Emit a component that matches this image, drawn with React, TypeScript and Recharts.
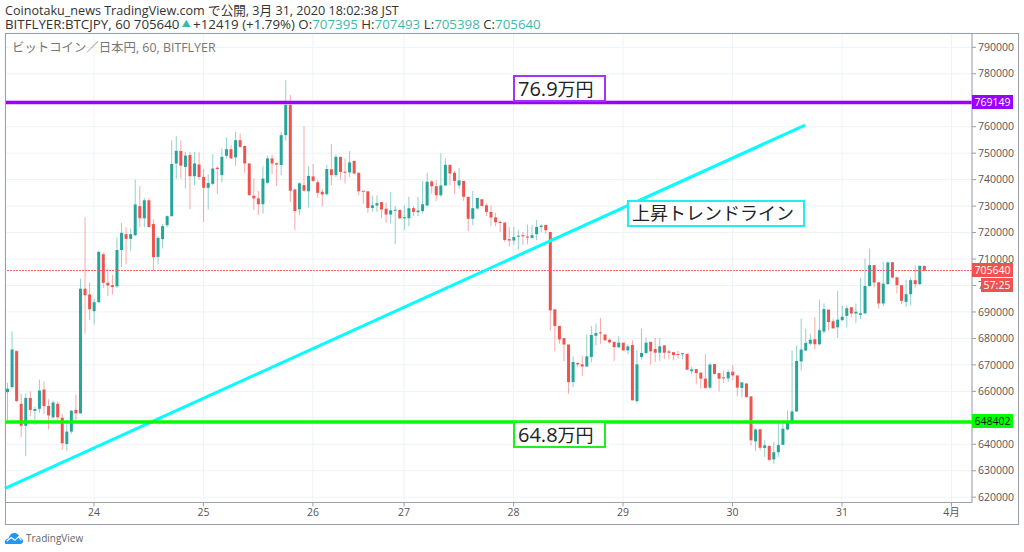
import React from "react";
import { ComposedChart, Bar, XAxis, YAxis, CartesianGrid, ReferenceLine } from "recharts";

const opens = [
659700,661600,675200,655300,647000,657500,652600,653400,660700,654500,
650200,655300,650000,640100,644800,653000,651700,698800,696600,690300,
693700,711800,701000,700100,699700,713400,719400,717600,719000,730000,
725400,732200,723200,710800,717500,722800,726200,746100,750800,744800,
749300,741300,745700,741000,736900,738400,744500,741700,749000,751500,
748400,754900,752700,746100,733900,732900,730700,738800,748000,746200,
745500,756800,768200,736300,728800,737900,735600,741200,739000,735400,
734500,743900,741700,748600,743000,742700,747100,742600,735800,735600,
729300,730200,731500,729000,726800,728300,728600,725400,725400,729200,
727700,728100,730200,739300,737500,734100,737800,745600,742600,737800,
739500,733500,725200,729100,732600,730300,727800,725700,724000,723800,
717500,717000,718500,719000,718500,718000,719400,722100,722900,720200,
691000,684700,680100,677700,663500,670700,670200,669400,673000,681000,
682300,681500,679500,678700,676700,678400,675500,677500,656300,673000,
674500,678700,676000,674600,677400,675100,674800,674100,674000,674200,
667600,668400,667100,664800,661400,670300,666900,665300,664900,667400,
666000,661300,663000,658100,641100,645700,638600,639400,634300,637000,
639800,645600,648000,652400,671300,675400,678000,679700,677800,682600,
690900,686500,684200,686900,688500,691800,689400,688900,689500,699800,
707700,701200,693200,700500,708800,703100,700100,693800,696700,702000,
700500,707395];

const closes = [
661000,675800,656300,647000,657500,653000,653300,660300,654400,650900,
655800,650200,640400,644800,652700,651700,698800,696300,691000,693700,
712700,701000,700000,699400,713400,719900,717600,719400,730600,725400,
732200,722100,710700,718000,722400,726200,745900,750900,745300,749100,
741300,746100,741000,736900,738700,744200,744000,748600,751500,748000,
754900,752400,746100,734100,732900,730700,740400,748000,746100,745700,
756800,768200,735800,728100,738600,735800,741400,739500,735000,734400,
744000,741700,748600,742900,742700,746500,742300,735600,735500,729300,
730300,731100,728700,726800,728400,728600,725400,725800,729200,727800,
728300,730700,739200,737500,734100,737800,745600,742300,739500,739700,
733500,725200,729200,733100,730000,727800,725700,723900,723600,717200,
717000,718300,718800,718600,718100,719000,722100,722600,720900,690600,
684700,679600,677700,663500,671100,670200,669400,673200,681300,682000,
681900,679300,678500,676700,678400,675500,677000,656600,670200,674500,
678400,675100,674600,677000,674600,674600,673700,673900,674400,668200,
668300,666900,664800,661300,670100,666600,664800,665000,667300,666000,
661400,663400,657900,641500,645600,638700,639600,634100,637000,639700,
645900,648400,652400,671500,675800,678300,679500,677800,683100,691100,
686200,683800,687100,688200,691400,689400,690100,689500,699800,707700,
701100,693200,700700,708700,703000,700100,694200,696700,702000,700500,
707400,705640];

const highs = [
663200,682600,675500,659000,659300,660000,654300,664400,663700,657000,
656500,656200,651500,649200,653000,658800,702600,725700,701000,695000,
713000,712500,706500,704000,718100,723600,722000,721500,740000,737500,
733000,733000,725000,718600,723200,726500,754900,756400,754900,750500,
750500,750500,750300,744000,742000,749600,745000,751800,756000,753000,
758000,757400,752900,746100,740400,735700,745000,749000,749400,746500,
758000,777600,772000,736500,739000,760000,745000,745900,740000,736500,
745500,753400,749600,744800,748000,750800,744800,742300,735600,733500,
733900,734000,731600,731300,735400,730000,726500,730300,733500,730000,
733500,739500,742600,739800,739800,749900,748000,743000,743300,744400,
733500,730300,735700,732900,732000,731000,730300,727400,724700,719000,
722100,722100,720900,720200,723000,722800,724700,723100,721500,691200,
684900,680900,678000,673600,673200,671000,673500,681500,684700,685600,
687700,680500,680000,678800,680800,678000,677700,679300,675500,683700,
680300,678700,680200,680200,676100,675800,674900,675300,674400,669800,
669400,667700,665400,674000,670800,667900,666700,667900,668200,670000,
665700,663100,660000,646900,646000,643300,641500,639600,640800,648800,
649000,652800,675500,677400,687500,683700,681800,687900,694700,693200,
688700,687500,698000,692400,692400,690900,693200,702900,710200,714000,
704500,701400,708900,709000,704500,700100,698500,702100,703000,707700,
707700,707493];

const lows = [
649000,661000,656000,642700,635500,650500,647300,651900,651500,645600,
649600,649000,637900,637600,643900,649000,651500,681800,687000,685300,
693500,699000,696000,696600,699000,707000,708000,713000,718600,722000,
722000,722000,705700,708000,714000,722000,726000,740400,740400,736700,
728800,737900,740000,724000,728700,737900,734500,739000,748000,748000,
745200,752000,742600,734000,728500,726600,727200,738500,742100,737600,
741700,754700,731600,720900,726600,735500,729500,739300,733300,730000,
734000,737900,741000,740000,738500,741000,742000,734100,731000,727400,
727800,727800,725500,723600,723400,715600,725000,720900,722400,726200,
726200,727200,730000,734700,732000,733500,737500,737900,734700,736600,
732000,720600,722800,728700,730000,726200,722400,722400,720200,716500,
714800,715200,713600,715300,715600,717700,717100,720200,719600,683000,
675200,678000,671400,659100,661600,669200,665800,669200,671000,677400,
678000,679000,678000,671400,676300,675200,674000,656600,655500,672000,
674200,670100,671100,671500,672100,672000,671700,672400,672100,668000,
666400,662600,661000,661000,661000,666300,660000,663200,663500,664200,
658100,657800,657500,639600,637400,637700,635200,633600,632600,635200,
639600,645200,647500,652200,667900,675100,677400,675900,677400,681800,
683000,683600,680200,686600,684100,687900,685800,687400,689000,699500,
699200,691300,692200,700300,702600,697000,692900,691900,692500,699200,
700100,705398];

const dayTicks = [19, 43, 67, 87, 111, 135, 159, 183, 207];
const dayLabels = ["24", "25", "26", "27", "28", "29", "30", "31", "4月"];
const priceTicks = [
620000,630000,640000,650000,660000,670000,680000,690000,700000,
710000,720000,730000,740000,750000,760000,770000,780000,790000,
];
const coveredPriceLabels: Record<number, string> = { 650000: "", 770000: "", 700000: "7" };
const resistance = 769149;
const support = 648402;
const lastPrice = 705640;
const trendStart = { i: -0.5, price: 623300 };
const trendEnd = { i: 174.9, price: 760600 };

const candles = opens.map((o, i) => ({
  i,
  open: o,
  close: closes[i],
  wick: [lows[i], highs[i]],
  body: [Math.min(o, closes[i]), Math.max(o, closes[i])],
}));

const UP = "#26a69a";
const DOWN = "#ef5350";
const FONT = '"Open Sans","Noto Sans CJK JP",sans-serif';

const Wick = (p: any) => (
  <rect x={p.x + p.width / 2 - 0.5} y={p.y} width={1} height={p.height}
    fill={p.payload.close >= p.payload.open ? UP : DOWN} fillOpacity={0.5} />
);
const Body = (p: any) => (
  <rect x={p.x} y={p.y} width={p.width} height={Math.max(p.height, 1)}
    fill={p.payload.close >= p.payload.open ? UP : DOWN} />
);

const abs = (left: number, top: number, extra: React.CSSProperties = {}): React.CSSProperties => ({
  position: "absolute", left, top, whiteSpace: "nowrap", fontFamily: FONT, ...extra,
});

const Badge = ({ top, left = 972, width = 41, bg, color = "#fff", children }: any) => (
  <div style={abs(left, top, {
    width, height: 14, lineHeight: "14px", background: bg, color, fontSize: 10.5, textAlign: "center",
  })}>{children}</div>
);

const Note = ({ left, top, width, height, color, pad = 3, children }: any) => (
  <div style={abs(left, top, {
    width, height, boxSizing: "border-box", border: `2px solid ${color}`, background: "#fff",
    color: "#222", fontSize: 18, lineHeight: `${height - 4}px`, paddingLeft: pad,
  })}>{children}</div>
);
const Digits = ({ children }: any) => <span style={{ fontSize: 20 }}>{children}</span>;

const teal = { color: "#3fb8a8" };

export default function App() {
  return (
    <div style={{ position: "absolute", left: 0, top: 0, width: 1024, height: 552, background: "#fff", overflow: "hidden" }}>
      <div style={abs(5, 4, { fontSize: 12.6, color: "#333", lineHeight: "14px" })}>
        Coinotaku_news TradingView.com で公開, 3月 31, 2020 18:02:38 JST
      </div>
      <div style={abs(5, 17, { fontSize: 13.3, color: "#333", lineHeight: "14px" })}>
        BITFLYER:BTCJPY, 60 705640<span style={{ ...teal, fontSize: 9, verticalAlign: 2 }}> ▲ </span>+12419 (+1.79%) O:<span style={teal}>707395</span> H:<span style={teal}>707493</span> L:<span style={teal}>705398</span> C:<span style={teal}>705640</span>
      </div>

      <ComposedChart
        width={1024}
        height={552}
        data={candles}
        margin={{ top: 33, right: 0, bottom: 0, left: 5 }}
        barGap={-3}
        style={{ position: "absolute", left: 0, top: 0 }}
      >
        <CartesianGrid stroke="#eef3f7" strokeWidth={1} />
        <XAxis
          dataKey="i"
          type="number"
          domain={[-0.5, 211.5]}
          ticks={dayTicks}
          height={49.5}
          allowDataOverflow
          tickFormatter={(v: number) => dayLabels[dayTicks.indexOf(v)]}
          tick={{ fontSize: 10.5, fill: "#555", fontFamily: FONT }}
          tickLine={{ stroke: "#9a9ea8" }}
          tickSize={4}
          axisLine={{ stroke: "#9a9ea8", strokeWidth: 1 }}
          interval={0}
        />
        <YAxis
          orientation="right"
          type="number"
          domain={[618000, 795400]}
          ticks={priceTicks}
          width={52}
          allowDataOverflow
          tickFormatter={(v: number) => (v in coveredPriceLabels ? coveredPriceLabels[v] : String(v))}
          tick={{ fontSize: 10.5, fill: "#555", fontFamily: FONT }}
          tickLine={{ stroke: "#9a9ea8" }}
          tickSize={4}
          axisLine={{ stroke: "#9a9ea8", strokeWidth: 1 }}
          interval={0}
        />
        <Bar dataKey="wick" barSize={3} isAnimationActive={false} shape={Wick} />
        <Bar dataKey="body" barSize={3} isAnimationActive={false} shape={Body} />
        <ReferenceLine y={lastPrice} stroke="#f0605e" strokeDasharray="2 1" strokeWidth={1} />
        <ReferenceLine
          segment={[{ x: trendStart.i, y: trendStart.price }, { x: trendEnd.i, y: trendEnd.price }]}
          stroke="#00ffff"
          strokeWidth={3}
        />
        <ReferenceLine y={resistance} stroke="#9900ff" strokeWidth={3.5} />
        <ReferenceLine y={support} stroke="#00ff00" strokeWidth={3.5} />
      </ComposedChart>

      <div style={{ position: "absolute", left: 5, top: 33, width: 1014, height: 492, boxSizing: "border-box", border: "1.5px solid #9a9ea8", pointerEvents: "none" }} />

      <div style={abs(12, 40, { fontSize: 12.4, color: "#777", lineHeight: "16px" })}>
        ビットコイン／日本円, 60, BITFLYER
      </div>

      <Note left={513} top={75} width={93} height={27} color="#a033ff"><Digits>76.9</Digits>万円</Note>
      <Note left={627} top={200} width={178} height={27} color="#22eeee" pad={3}>上昇トレンドライン</Note>
      <Note left={513} top={421} width={93} height={27} color="#22ee22"><Digits>64.8</Digits>万円</Note>

      <Badge top={95} bg="#9900ff">769149</Badge>
      <Badge top={263} bg="#ef5350">705640</Badge>
      <Badge top={278} left={981} width={32} bg="#ef5350">57:25</Badge>
      <Badge top={414} bg="#00ff00" color="#111">648402</Badge>

      <svg width="20" height="11" viewBox="0 0 20 12" style={{ position: "absolute", left: 4, top: 533 }}>
        <path d="M0 11 C0 7 2 6 4 6 C5 2 8 0 10 0 C14 0 16 3 16 5 C18 5 20 8 20 9 C20 11 18 12 17 12 L2 12 C1 12 0 12 0 11Z" fill="#2196f3" />
        <path d="M2 9 L7 5 L11 8 L15 4 L18 8" fill="none" stroke="#fff" strokeWidth="1.3" />
      </svg>
      <div style={abs(26, 530, { fontSize: 10, color: "#666", lineHeight: "16px" })}>TradingView</div>
    </div>
  );
}
